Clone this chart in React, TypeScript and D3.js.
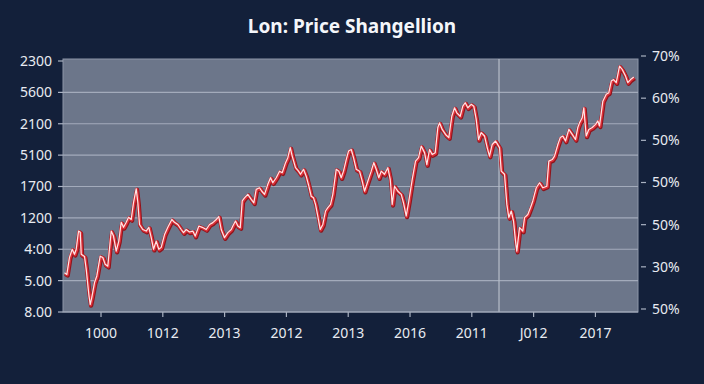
import React from 'react';
import * as d3 from 'd3';

// category labels on the bottom axis
const xLabels = ['1000', '1012', '2013', '2012', '2013', '2016', '2011', 'J012', '2017'];
// left axis labels, bottom to top
const leftLabels = ['8.00', '5.00', '4:00', '1200', '1700', '5100', '2100', '5600', '2300'];
// right axis labels, bottom to top
const rightLabels = ['50%', '30%', '50%', '50%', '50%', '60%', '70%'];

// position along the x axis, in label steps (0 = first label)
const xs = [
  -0.583, -0.545, -0.502, -0.458, -0.421, -0.393, -0.356, -0.328, -0.312, -0.259,
  -0.231, -0.189, -0.167, -0.141, -0.097, -0.06, -0.005, 0.037, 0.076, 0.118,
  0.173, 0.21, 0.254, 0.296, 0.335, 0.372, 0.416, 0.453, 0.497, 0.534,
  0.578, 0.604, 0.631, 0.684, 0.739, 0.782, 0.82, 0.858, 0.901, 0.943,
  0.982, 1.036, 1.089, 1.154, 1.197, 1.251, 1.306, 1.343, 1.387, 1.44,
  1.494, 1.532, 1.591, 1.646, 1.71, 1.764, 1.817, 1.872, 1.914, 1.953,
  2.006, 2.06, 2.115, 2.141, 2.184, 2.222, 2.261, 2.293, 2.33, 2.383,
  2.439, 2.481, 2.519, 2.573, 2.61, 2.654, 2.707, 2.751, 2.788, 2.843,
  2.896, 2.94, 2.994, 3.031, 3.07, 3.102, 3.155, 3.204, 3.236, 3.285,
  3.328, 3.371, 3.409, 3.447, 3.479, 3.516, 3.555, 3.597, 3.641, 3.678,
  3.722, 3.759, 3.814, 3.856, 3.895, 3.932, 3.976, 4.013, 4.057, 4.094,
  4.138, 4.191, 4.235, 4.272, 4.325, 4.38, 4.422, 4.461, 4.503, 4.542,
  4.595, 4.649, 4.688, 4.72, 4.757, 4.811, 4.866, 4.903, 4.947, 4.989,
  5.044, 5.097, 5.146, 5.189, 5.243, 5.28, 5.324, 5.367, 5.416, 5.458,
  5.485, 5.529, 5.583, 5.636, 5.684, 5.728, 5.765, 5.82, 5.862, 5.901,
  5.943, 5.998, 6.04, 6.079, 6.117, 6.16, 6.214, 6.257, 6.294, 6.338,
  6.392, 6.456, 6.484, 6.537, 6.575, 6.607, 6.646, 6.683, 6.715, 6.736,
  6.78, 6.833, 6.861, 6.914, 6.958, 6.995, 7.05, 7.104, 7.157, 7.222,
  7.254, 7.309, 7.346, 7.4, 7.439, 7.481, 7.524, 7.578, 7.633, 7.686,
  7.723, 7.751, 7.794, 7.82, 7.859, 7.901, 7.956, 8.01, 8.047, 8.074,
  8.128, 8.183, 8.225, 8.264, 8.301, 8.345, 8.398, 8.442, 8.495, 8.532,
  8.576, 8.629,
];

// price, in left-axis steps (0 = bottom label)
const prices = [
  1.23, 1.18, 1.72, 1.98, 1.82, 1.98, 2.56, 2.52, 1.82, 1.75,
  1.34, 0.54, 0.22, 0.45, 0.92, 1.13, 1.76, 1.72, 1.5, 1.44,
  2.56, 2.4, 1.92, 2.24, 2.84, 2.68, 2.84, 3.0, 2.93, 3.47,
  3.91, 3.47, 2.77, 2.61, 2.56, 2.68, 2.36, 1.98, 2.24, 1.98,
  2.04, 2.45, 2.68, 2.93, 2.84, 2.77, 2.61, 2.51, 2.61, 2.53,
  2.56, 2.4, 2.72, 2.68, 2.61, 2.77, 2.83, 2.93, 3.02, 2.61,
  2.35, 2.51, 2.61, 2.72, 2.88, 2.72, 2.67, 3.52, 3.62, 3.73,
  3.57, 3.46, 3.89, 3.94, 3.83, 3.73, 4.05, 4.26, 4.1, 4.26,
  4.47, 4.42, 4.74, 4.9, 5.22, 4.95, 4.58, 4.47, 4.37, 4.53,
  4.31, 3.99, 3.67, 3.62, 3.41, 3.04, 2.61, 2.77, 3.2, 3.31,
  3.41, 3.73, 4.53, 4.47, 4.26, 4.47, 4.84, 5.11, 5.16, 4.9,
  4.53, 4.47, 4.15, 3.83, 4.15, 4.47, 4.74, 4.53, 4.26, 4.47,
  4.37, 4.58, 4.21, 3.41, 3.99, 3.83, 3.73, 3.46, 3.04, 3.52,
  4.21, 4.79, 4.9, 5.27, 5.06, 4.68, 5.16, 5.0, 5.06, 5.86,
  6.01, 5.8, 5.64, 5.54, 6.22, 6.49, 6.33, 6.22, 6.54, 6.65,
  6.49, 6.6, 6.54, 6.12, 5.48, 5.7, 5.59, 5.22, 4.95, 5.32,
  5.43, 5.22, 4.47, 4.37, 3.41, 2.99, 3.2, 2.88, 2.24, 1.92,
  2.67, 2.56, 2.99, 3.09, 3.31, 3.52, 3.94, 4.1, 3.94, 3.99,
  4.79, 4.84, 4.95, 5.32, 5.54, 5.59, 5.43, 5.8, 5.64, 5.48,
  5.86, 6.01, 6.17, 6.49, 5.59, 5.8, 5.86, 5.96, 6.07, 5.91,
  6.7, 6.92, 6.97, 7.34, 7.39, 7.29, 7.82, 7.71, 7.5, 7.29,
  7.39, 7.47,
];

// the light vertical marker line, in label steps
const markerX = 6.44;

const W = 704;
const H = 384;
const plot = { left: 63, right: 638, top: 59, bottom: 312 };
const font = '"Noto Sans", "Open Sans", sans-serif';

export default function App() {
  const x = d3.scaleLinear().domain([-0.615, 8.689]).range([plot.left, plot.right]);
  const y = d3.scaleLinear().domain([0, 8]).range([312, 61]);
  const yR = d3.scaleLinear().domain([0, 6]).range([309, 56]);

  const pts = xs.map((d, i) => [d, prices[i]] as [number, number]);
  const line = d3.line<[number, number]>()
    .x(d => x(d[0]))
    .y(d => y(d[1]));
  const path = line(pts) || '';

  return (
    <svg width={W} height={H} style={{ position: 'absolute', left: 0, top: 0, display: 'block' }}>
      <rect width={W} height={H} fill="#13203a" />
      <text x={352} y={33} textAnchor="middle" fill="#f4f6fa" fontFamily={font} fontSize={19} fontWeight={700}>
        Lon: Price Shangellion
      </text>

      {/* plot area */}
      <rect x={plot.left} y={plot.top} width={plot.right - plot.left} height={plot.bottom - plot.top}
        fill="#6c768a" stroke="#8d96a8" strokeWidth={1} />

      {/* grid */}
      {leftLabels.map((_, i) => (
        i > 0 && i < leftLabels.length - 1 ? (
          <line key={'g' + i} x1={plot.left} x2={plot.right} y1={y(i)} y2={y(i)} stroke="#a3abbb" strokeWidth={1.2} />
        ) : null
      ))}
      <line x1={x(markerX)} x2={x(markerX)} y1={plot.top} y2={plot.bottom} stroke="#b6bdca" strokeWidth={1.2} />

      {/* left axis */}
      {leftLabels.map((lab, i) => (
        <g key={'l' + i}>
          <line x1={plot.left - 5} x2={plot.left} y1={y(i)} y2={y(i)} stroke="#aab2c2" strokeWidth={1.2} />
          <text x={52} y={y(i)} dy="0.35em" textAnchor="end" fill="#e8ebf1" fontFamily={font} fontSize={14}>{lab}</text>
        </g>
      ))}

      {/* right axis */}
      {rightLabels.map((lab, i) => (
        <g key={'r' + i}>
          <line x1={plot.right + 3} x2={plot.right + 8} y1={yR(i)} y2={yR(i)} stroke="#aab2c2" strokeWidth={1.2} />
          <text x={652} y={yR(i)} dy="0.35em" textAnchor="start" fill="#e8ebf1" fontFamily={font} fontSize={14}>{lab}</text>
        </g>
      ))}

      {/* bottom axis */}
      <line x1={plot.left} x2={plot.right} y1={plot.bottom} y2={plot.bottom} stroke="#aab2c2" strokeWidth={1.2} />
      {xLabels.map((lab, i) => (
        <g key={'x' + i}>
          <line x1={x(i)} x2={x(i)} y1={plot.bottom} y2={plot.bottom + 5} stroke="#aab2c2" strokeWidth={1.2} />
          <text x={x(i)} y={338} textAnchor="middle" fill="#e8ebf1" fontFamily={font} fontSize={14}>{lab}</text>
        </g>
      ))}

      {/* price line: dark edge, red body, light core */}
      <path d={path} fill="none" stroke="#8e141c" strokeWidth={4.2} strokeLinejoin="round" transform="translate(0.4,0.6)" />
      <path d={path} fill="none" stroke="#dc3038" strokeWidth={3} strokeLinejoin="round" />
      <path d={path} fill="none" stroke="#fde8e8" strokeWidth={1.2} strokeLinejoin="round" transform="translate(-0.5,-0.6)" />
    </svg>
  );
}
